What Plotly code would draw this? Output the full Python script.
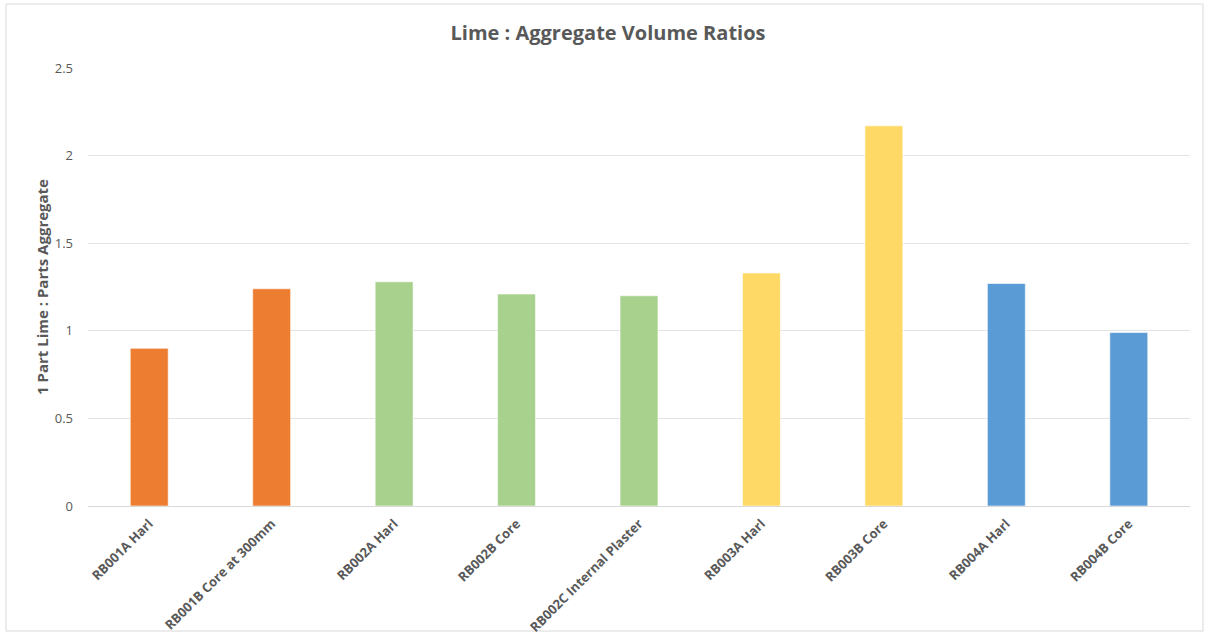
import plotly.graph_objects as go

# Sample labels and measured lime:aggregate ratios
samples = [
    "RB001A Harl",
    "RB001B Core at 300mm",
    "RB002A Harl",
    "RB002B Core",
    "RB002C Internal Plaster",
    "RB003A Harl",
    "RB003B Core",
    "RB004A Harl",
    "RB004B Core",
]
ratios = [0.90, 1.24, 1.28, 1.21, 1.20, 1.33, 2.17, 1.27, 0.99]

# Building each sample belongs to, and the colour used for that building
buildings = ["RB001", "RB001", "RB002", "RB002", "RB002", "RB003", "RB003", "RB004", "RB004"]
building_colors = {
    "RB001": "#ED7D31",
    "RB002": "#A9D18E",
    "RB003": "#FFD966",
    "RB004": "#5B9BD5",
}

y_ticks = [0, 0.5, 1, 1.5, 2, 2.5]
y_tick_text = ["0", "0.5", "1", "1.5", "2", "2.5"]

W, H = 1209, 637
ml, mr, mt, mb = 88, 19, 68, 131
pw, ph = W - ml - mr, H - mt - mb

fig = go.Figure(
    go.Bar(
        x=samples,
        y=ratios,
        marker=dict(
            color=[building_colors[b] for b in buildings],
            line=dict(color="rgba(255,255,255,0.6)", width=1),
        ),
        hovertemplate="%{x}: %{y}<extra></extra>",
    )
)

# Light frame around the whole chart area
fig.add_shape(
    type="rect",
    xref="paper", yref="paper",
    x0=(6 - ml) / pw, x1=(1203 - ml) / pw,
    y0=(H - mb - 631) / ph, y1=(H - mb - 4) / ph,
    line=dict(color="#D9D9D9", width=1),
    fillcolor="rgba(0,0,0,0)",
    layer="below",
)

fig.update_layout(
    width=W,
    height=H,
    margin=dict(l=ml, r=mr, t=mt, b=mb),
    paper_bgcolor="white",
    plot_bgcolor="white",
    bargap=0.69,
    showlegend=False,
    font=dict(family="Open Sans, Liberation Sans, sans-serif", color="#595959"),
    title=dict(
        text="<b>Lime : Aggregate Volume Ratios</b>",
        x=608 / W,
        xanchor="center",
        y=1 - 33 / H,
        yanchor="middle",
        font=dict(size=20, color="#595959"),
    ),
    xaxis=dict(
        tickangle=-45,
        tickfont=dict(size=13, color="#595959", weight="bold"),
        showgrid=False,
        showline=True,
        linecolor="#D9D9D9",
        linewidth=1,
        ticks="",
        ticklabelstandoff=4,
        automargin=False,
    ),
    yaxis=dict(
        range=[0, 2.5],
        tickvals=y_ticks,
        ticktext=y_tick_text,
        tickfont=dict(size=13, color="#595959"),
        showgrid=True,
        gridcolor="#E3E3E3",
        gridwidth=1,
        zeroline=False,
        showline=False,
        ticks="",
        ticklabelstandoff=14,
        automargin=False,
        title=dict(
            text="<b>1 Part Lime : Parts Aggregate</b>",
            font=dict(size=15, color="#595959"),
            standoff=2,
        ),
    ),
)

fig.write_html("out.html")
